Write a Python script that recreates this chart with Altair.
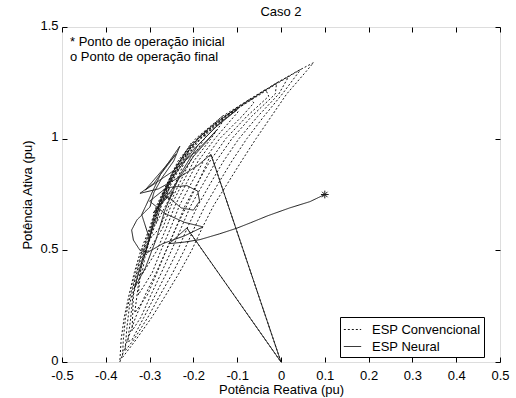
import altair as alt
import pandas as pd

FONT = "Liberation Sans"

x_ticks = [-0.5, -0.4, -0.3, -0.2, -0.1, 0, 0.1, 0.2, 0.3, 0.4, 0.5]
y_ticks = [0, 0.5, 1, 1.5]
series_names = ["ESP Convencional", "ESP Neural"]
notes = ["* Ponto de operação inicial", "o Ponto de operação final"]
start_pt = [(0.1, 0.75)]

# ESP Convencional (dotted) trajectory, (Q, P) pairs
dotted_pts = [
    (-0.215, 0.6), (0, 0), (-0.16, 0.93), (-0.19, 0.8), (-0.215, 0.7), (-0.24, 0.6),
    (-0.262, 0.5), (-0.285, 0.4), (-0.31, 0.3), (-0.332, 0.2), (-0.35, 0.1), (-0.368, 0.0),
    # loop 1
    (-0.365, 0.1), (-0.358, 0.2), (-0.347, 0.3), (-0.335, 0.4), (-0.320, 0.5), (-0.300, 0.6),
    (-0.284, 0.7), (-0.260, 0.8), (-0.235, 0.9), (-0.195, 1.0), (-0.134, 1.1), (-0.052, 1.2),
    (0.035, 1.3), (0.074, 1.34),
    (0.057, 1.3), (0.013, 1.2), (-0.022, 1.1), (-0.057, 1.0), (-0.090, 0.9), (-0.122, 0.8),
    (-0.154, 0.7), (-0.180, 0.6), (-0.204, 0.5), (-0.232, 0.4), (-0.263, 0.3), (-0.295, 0.2),
    (-0.331, 0.1), (-0.362, 0.02),
    # loop 2
    (-0.360, 0.1), (-0.355, 0.2), (-0.344, 0.3), (-0.332, 0.4), (-0.317, 0.5), (-0.297, 0.6),
    (-0.281, 0.7), (-0.257, 0.8), (-0.231, 0.9), (-0.191, 1.0), (-0.130, 1.1), (-0.049, 1.2),
    (0.045, 1.31),
    (0.003, 1.2), (-0.039, 1.1), (-0.078, 1.0), (-0.112, 0.9), (-0.143, 0.8), (-0.173, 0.7),
    (-0.198, 0.6), (-0.221, 0.5), (-0.247, 0.4), (-0.276, 0.3), (-0.304, 0.2), (-0.336, 0.1),
    (-0.356, 0.05),
    # loop 3
    (-0.352, 0.15), (-0.346, 0.25), (-0.336, 0.35), (-0.323, 0.45), (-0.306, 0.55), (-0.290, 0.65),
    (-0.271, 0.75), (-0.247, 0.85), (-0.215, 0.95), (-0.163, 1.05), (-0.092, 1.15), (-0.010, 1.25),
    (0.018, 1.28),
    (-0.005, 1.2), (-0.053, 1.1), (-0.096, 1.0), (-0.131, 0.9), (-0.161, 0.8), (-0.190, 0.7),
    (-0.214, 0.6), (-0.236, 0.5), (-0.261, 0.4), (-0.287, 0.3), (-0.313, 0.2), (-0.340, 0.1),
    (-0.350, 0.09),
    # loop 4
    (-0.343, 0.2), (-0.338, 0.3), (-0.327, 0.4), (-0.313, 0.5), (-0.294, 0.6), (-0.278, 0.7),
    (-0.255, 0.8), (-0.229, 0.9), (-0.189, 1.0), (-0.128, 1.1), (-0.046, 1.2), (-0.010, 1.25),
    (-0.013, 1.2), (-0.067, 1.1), (-0.112, 1.0), (-0.148, 0.9), (-0.177, 0.8), (-0.206, 0.7),
    (-0.228, 0.6), (-0.250, 0.5), (-0.273, 0.4), (-0.297, 0.3), (-0.320, 0.2), (-0.340, 0.14),
    # loop 5
    (-0.337, 0.3), (-0.325, 0.4), (-0.311, 0.5), (-0.292, 0.6), (-0.276, 0.7), (-0.253, 0.8),
    (-0.226, 0.9), (-0.186, 1.0), (-0.125, 1.1), (-0.035, 1.22),
    (-0.028, 1.19), (-0.078, 1.1), (-0.126, 1.0), (-0.162, 0.9), (-0.191, 0.8), (-0.219, 0.7),
    (-0.240, 0.6), (-0.262, 0.5), (-0.283, 0.4), (-0.305, 0.3), (-0.334, 0.22),
    # loop 6
    (-0.322, 0.4), (-0.308, 0.5), (-0.290, 0.6), (-0.273, 0.7), (-0.250, 0.8), (-0.223, 0.9),
    (-0.183, 1.0), (-0.122, 1.1), (-0.070, 1.18),
    (-0.062, 1.16), (-0.089, 1.1), (-0.140, 1.0), (-0.177, 0.9), (-0.205, 0.8), (-0.232, 0.7),
    (-0.252, 0.6), (-0.274, 0.5), (-0.294, 0.4), (-0.326, 0.30),
    # loop 7
    (-0.318, 0.45), (-0.300, 0.55), (-0.287, 0.65), (-0.265, 0.75), (-0.241, 0.85), (-0.210, 0.95),
    (-0.158, 1.05), (-0.100, 1.14),
    (-0.098, 1.12), (-0.151, 1.0), (-0.189, 0.9), (-0.216, 0.8), (-0.242, 0.7), (-0.262, 0.6),
    (-0.283, 0.5), (-0.318, 0.39),
    # loop 8
    (-0.306, 0.52), (-0.293, 0.6), (-0.279, 0.7), (-0.256, 0.8), (-0.230, 0.9), (-0.190, 1.0),
    (-0.134, 1.1),
    (-0.135, 1.07), (-0.160, 1.0), (-0.199, 0.9), (-0.225, 0.8), (-0.251, 0.7), (-0.270, 0.6),
    (-0.308, 0.48),
    # loop 9
    (-0.298, 0.58), (-0.283, 0.68), (-0.262, 0.78), (-0.238, 0.88), (-0.205, 0.97), (-0.170, 1.04),
    (-0.175, 1.0), (-0.207, 0.9), (-0.232, 0.8), (-0.256, 0.7), (-0.277, 0.6), (-0.300, 0.55),
    # loop 10
    (-0.290, 0.65), (-0.270, 0.75), (-0.247, 0.85), (-0.205, 0.98),
    (-0.215, 0.92), (-0.237, 0.82), (-0.258, 0.72), (-0.285, 0.62),
    (-0.275, 0.70), (-0.255, 0.78), (-0.262, 0.73), (-0.252, 0.76),
]

# ESP Neural (solid) trajectory
solid_pts = [
    (0.1, 0.75), (0.066, 0.718), (0.02, 0.69), (-0.03, 0.655), (-0.07, 0.623), (-0.101, 0.599),
    (-0.14, 0.574), (-0.185, 0.548), (-0.22, 0.537), (-0.255, 0.53), (-0.215, 0.6), (0, 0),
    (-0.16, 0.93), (-0.19, 0.88), (-0.23, 0.83), (-0.28, 0.775), (-0.322, 0.755), (-0.29, 0.8),
    (-0.231, 0.966), (-0.245, 0.9), (-0.27, 0.83), (-0.29, 0.76), (-0.299, 0.695), (-0.329, 0.636),
    (-0.341, 0.591), (-0.337, 0.546), (-0.322, 0.5), (-0.305, 0.49), (-0.27, 0.53), (-0.22, 0.565),
    (-0.178, 0.605), (-0.22, 0.625), (-0.265, 0.665), (-0.3, 0.72), (-0.262, 0.78), (-0.215, 0.79),
    (-0.19, 0.765), (-0.186, 0.72), (-0.2, 0.68), (-0.228, 0.69), (-0.258, 0.74), (-0.292, 0.667),
    (-0.25, 0.77), (-0.2, 0.92), (-0.146, 1.04), (-0.19, 0.95), (-0.25, 0.85), (-0.31, 0.77),
    (-0.24, 0.93), (-0.275, 0.84), (-0.318, 0.66), (-0.3, 0.55), (-0.325, 0.4), (-0.335, 0.33),
    (-0.31, 0.42), (-0.285, 0.55), (-0.265, 0.68), (-0.23, 0.84), (-0.19, 0.97), (-0.15, 1.05),
    (-0.1, 1.13), (-0.14, 1.07), (-0.2, 0.95), (-0.25, 0.82), (-0.27, 0.75), (-0.255, 0.73),
    (-0.245, 0.76), (-0.252, 0.755),
]

rows = []
for name, pts in ((series_names[0], dotted_pts), (series_names[1], solid_pts)):
    for i, (q, p) in enumerate(pts):
        rows.append({"q": q, "p": p, "serie": name, "i": i})
df = pd.DataFrame(rows)

xs = alt.Scale(domain=[-0.5, 0.5], nice=False, zero=False)
ys = alt.Scale(domain=[0, 1.5], nice=False, zero=False)
lab = "replace(format(datum.value, '.1~f'), '\u2212', '-')"

common = dict(domain=False, grid=False, tickSize=5, tickColor="black", tickWidth=1,
              offset=-5, labelFlush=False, labelOverlap=False)

x_bottom = alt.Axis(orient="bottom", values=x_ticks, labelExpr=lab, labelFont=FONT,
                    labelFontSize=13, labelColor="black", labelPadding=7,
                    title="Potência Reativa (pu)", titleFont=FONT, titleFontSize=13,
                    titleFontWeight="normal", titleColor="black", titlePadding=1, **common)
y_left = alt.Axis(orient="left", values=y_ticks, labelExpr=lab, labelFont=FONT,
                  labelFontSize=13, labelColor="black", labelPadding=4, labelOffset=-2,
                  title="Potência Ativa (pu)", titleFont=FONT, titleFontSize=13,
                  titleFontWeight="normal", titleColor="black", titlePadding=5, **common)
x_top = alt.Axis(orient="top", values=x_ticks, labels=False, title=None, **common)
y_right = alt.Axis(orient="right", values=y_ticks, labels=False, title=None, **common)

lines = alt.Chart(df).mark_line(color="#1a1a1a", strokeWidth=1).encode(
    x=alt.X("q:Q", scale=xs, axis=x_bottom),
    y=alt.Y("p:Q", scale=ys, axis=y_left),
    strokeDash=alt.StrokeDash(
        "serie:N",
        scale=alt.Scale(domain=series_names, range=[[2, 2], [1, 0]]),
        legend=alt.Legend(title=None, orient="none", legendX=278, legendY=290,
                          symbolType="stroke", symbolSize=300, symbolStrokeWidth=1,
                          symbolStrokeColor="#1a1a1a", strokeColor="black",
                          fillColor="white", padding=3, labelFont=FONT,
                          labelFontSize=13, labelColor="black", labelOffset=10,
                          rowPadding=0, cornerRadius=0),
    ),
    order="i:Q",
)

frame = alt.Chart(df).mark_point(opacity=0).encode(
    x=alt.X("q:Q", scale=xs, axis=x_top),
    y=alt.Y("p:Q", scale=ys, axis=y_right),
)

star_df = pd.DataFrame({"q": [start_pt[0][0]], "p": [start_pt[0][1]]})
asterisk = "M-1,0L1,0M0,-1L0,1M-0.7,-0.7L0.7,0.7M-0.7,0.7L0.7,-0.7"
star = alt.Chart(star_df).mark_point(shape=asterisk, size=60, color="#1a1a1a",
                                     strokeWidth=1, filled=False, opacity=1).encode(
    x=alt.X("q:Q", scale=xs, axis=None),
    y=alt.Y("p:Q", scale=ys, axis=None),
)

note1 = alt.Chart(pd.DataFrame({"t": [notes[0]]})).mark_text(
    align="left", baseline="middle", font=FONT, fontSize=13, color="black").encode(
    text="t:N", x=alt.value(8), y=alt.value(15))
note2 = alt.Chart(pd.DataFrame({"t": [notes[1]]})).mark_text(
    align="left", baseline="middle", font=FONT, fontSize=13, color="black").encode(
    text="t:N", x=alt.value(8), y=alt.value(30))

chart = alt.layer(lines, frame, star, note1, note2).resolve_axis(
    x="independent", y="independent"
).properties(
    width=438, height=335,
    title=alt.TitleParams("Caso 2", font=FONT, fontSize=13, fontWeight="normal",
                          color="black", offset=0, anchor="middle"),
    padding={"left": 62, "top": 27, "right": 16, "bottom": 36},
    autosize="none",
).configure_view(stroke="black", strokeWidth=1).configure(font=FONT)

chart.save("out.html", embed_options={"renderer": "svg", "actions": False})
